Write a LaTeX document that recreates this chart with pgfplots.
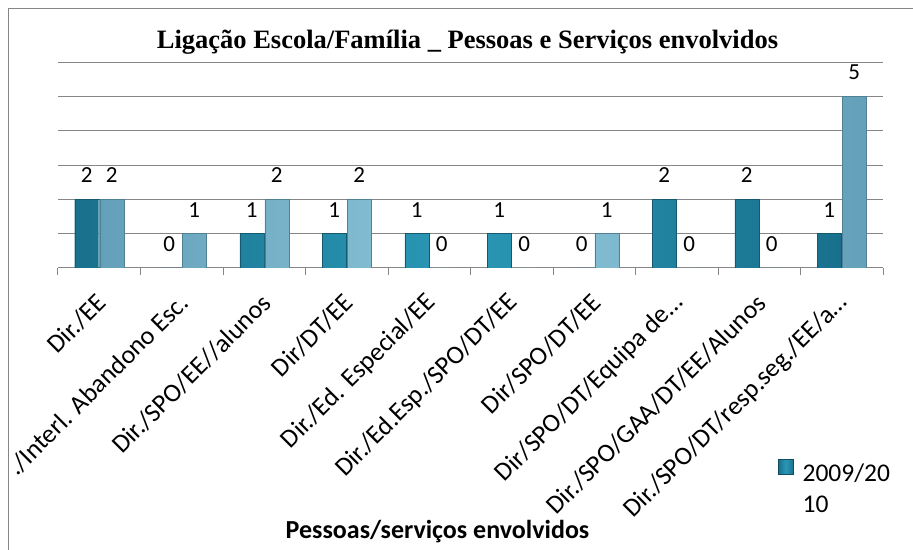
\documentclass[border=0pt]{standalone}
\usepackage{fontspec}
\setmainfont{Carlito}
\newfontfamily\titlefont{Liberation Serif}
\usepackage{pgfplots}
\pgfplotsset{compat=1.18}
\definecolor{darkA}{RGB}{24,112,140}
\definecolor{darkB}{RGB}{42,152,182}
\definecolor{lightA}{RGB}{100,160,185}
\definecolor{lightB}{RGB}{140,198,218}
\definecolor{gridc}{RGB}{134,134,134}
\begin{document}
\begin{tikzpicture}
\path[use as bounding box] (0,0) rectangle (913pt,549pt);
\draw[gridc, line width=1pt] (8.5pt,-20pt) -- (8.5pt,540.5pt) -- (930pt,540.5pt);
\begin{axis}[
  at={(58pt,281pt)}, anchor=south west,
  scale only axis, width=825pt, height=206pt,
  ybar=1pt, bar width=24pt,
  xmin=-0.5, xmax=9.5, ymin=0, ymax=6,
  xtick={0,...,9},
  xticklabels={Dir./EE, ./Interl. Abandono Esc., Dir./SPO/EE//alunos, Dir/DT/EE, Dir./Ed. Especial/EE, Dir./Ed.Esp./SPO/DT/EE, Dir/SPO/DT/EE, Dir/SPO/DT/Equipa de\ldots, Dir./SPO/GAA/DT/EE/Alunos, Dir./SPO/DT/resp.seg./EE/a\ldots},
  minor xtick={-0.5,0.5,...,9.5},
  major tick length=0pt, minor tick length=7pt, tick align=outside,
  minor tick style={gridc, line width=1pt},
  x tick label style={yshift=-30pt, xshift=3pt, rotate=45, anchor=east, font=\fontsize{26}{30}\selectfont, inner sep=1pt},
  ytick={0,...,6}, yticklabels={},
  ymajorgrids, major grid style={gridc, line width=1pt},
  separate axis lines,
  axis x line*=bottom, axis y line*=left,
  x axis line style={gridc, line width=1pt},
  y axis line style={draw=none},
  ytick style={draw=none},
  /pgf/number format/assume math mode=true,
  nodes near coords,
  every node near coord/.append style={font=\fontsize{23}{27}\selectfont, yshift=13pt, black},
  title={\titlefont\bfseries Ligação Escola/Família \_ Pessoas e Serviços envolvidos},
  title style={at={(0.5,1)}, anchor=base, yshift=8pt, xshift=-3pt, font=\fontsize{26.5}{30}\selectfont},
  xlabel={\bfseries Pessoas/serviços envolvidos},
  xlabel style={at={(axis description cs:0.46,0)}, anchor=base, yshift=-270pt, font=\fontsize{26}{30}\selectfont},
  legend style={at={(0.8727,-0.925)}, anchor=north west, draw=none, fill=none, font=\fontsize{25.5}{31}\selectfont, inner sep=0pt, nodes={inner sep=1pt}},
  legend image code/.code={\draw[#1, draw=darkA!70!black] (0pt,-3pt) rectangle (15pt,12pt);},
]
\addplot[draw=darkA!80!black, left color=darkA, right color=darkA, middle color=darkB]
  coordinates {(0,2) (1,0) (2,1) (3,1) (4,1) (5,1) (6,0) (7,2) (8,2) (9,1)};
\addplot[draw=lightA!80!black, left color=lightA, right color=lightA, middle color=lightB]
  coordinates {(0,2) (1,1) (2,2) (3,2) (4,0) (5,0) (6,1) (7,0) (8,0) (9,5)};
\legend{{\begin{tabular}[t]{@{\hspace{8pt}}l@{}}2009/20\\10\end{tabular}}}
\end{axis}
\end{tikzpicture}
\end{document}
